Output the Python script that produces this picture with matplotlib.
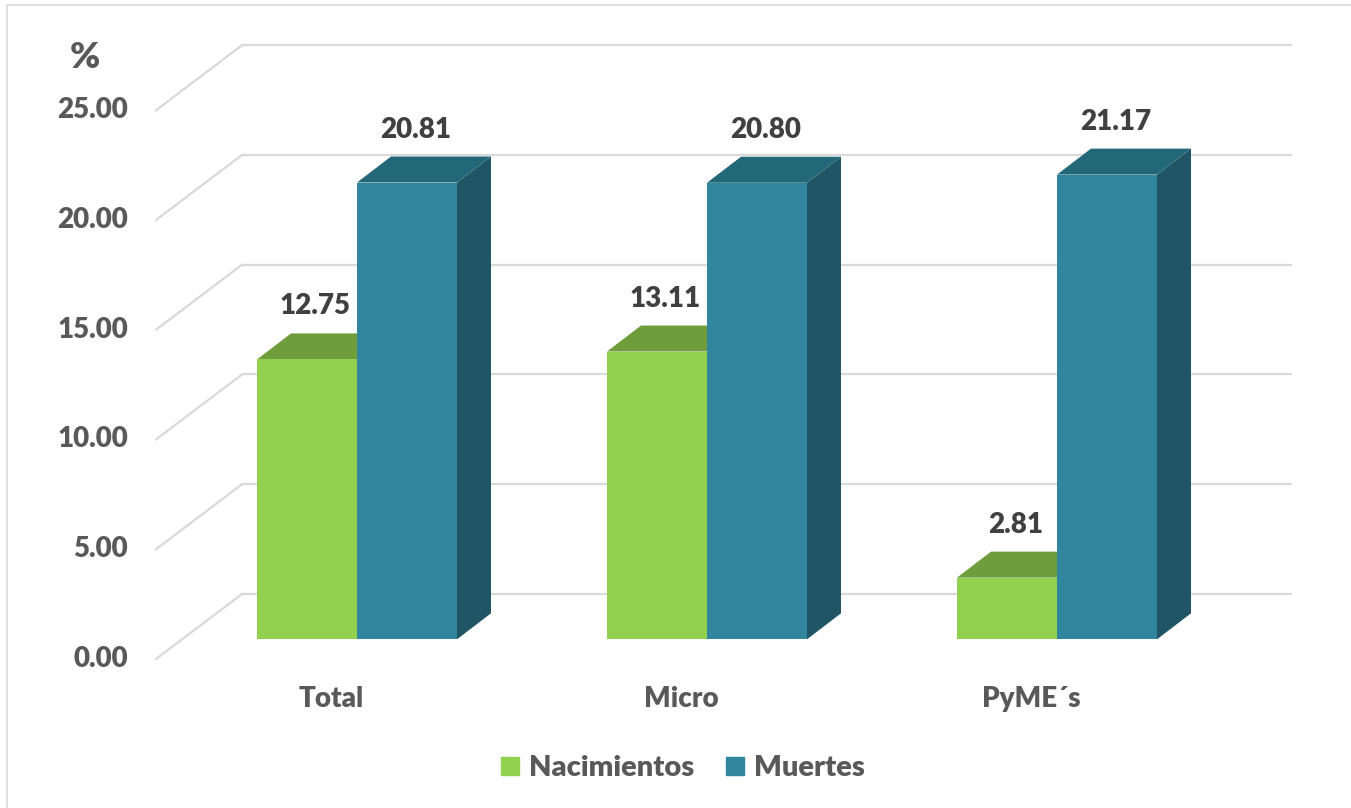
import numpy as np
import matplotlib
matplotlib.use("Agg")
import matplotlib.pyplot as plt
from matplotlib.patches import Polygon, Rectangle
from matplotlib.lines import Line2D

# datos
categorias = ["Total", "Micro", "PyME´s"]
nacimientos = [12.75, 13.11, 2.81]
muertes = [20.81, 20.80, 21.17]
series = ["Nacimientos", "Muertes"]
ticks = [0, 5, 10, 15, 20, 25]

plt.rcParams['font.family'] = ['Lato', 'DejaVu Sans']

# colores (frente, arriba, lado)
col_nac = ("#92D050", "#6F9D3B", "#5E8A30")
col_mue = ("#31859C", "#236878", "#1F5564")
gris = "#D9D9D9"
PESO = 'heavy'
FS = 20

# escala: 350 px por categoria, 21.95 px por unidad
PX_X = 350.0
PX_Y = 21.95
ancho = 100 / PX_X
DX, DY = 34 / PX_X, 26 / PX_Y          # profundidad de la barra
PARED = 45.3 / PX_Y                      # pared del fondo respecto a la base
FRENTE = -19.7 / PX_Y                    # plano frontal
x_pared = -115 / PX_X
x_frente = -201 / PX_X
x_fin = 935 / PX_X

fig = plt.figure(figsize=(13.51, 8.08), dpi=100)
ax = fig.add_axes([0, 0, 1, 1])
ax.set_xlim(-357 / PX_X, (1351 - 357) / PX_X)
ax.set_ylim((639.3 - 808) / PX_Y, 639.3 / PX_Y)
ax.axis('off')

# marco (solo se ven los bordes izquierdo y superior)
fig.patches.append(Rectangle((7 / 1351, -0.05), 1.1, 1 - 5 / 808 + 0.05,
                             transform=fig.transFigure, fill=False,
                             edgecolor=gris, lw=1.2))

# lineas de la cuadricula
for t in ticks:
    ax.plot([x_pared, x_fin], [t + PARED, t + PARED], color=gris, lw=1.6, zorder=1,
            solid_capstyle='butt')
    ax.plot([x_frente, x_pared], [t + FRENTE, t + PARED], color=gris, lw=1.6, zorder=1)
    ax.text(-229 / PX_X, t + FRENTE, f"{t:.2f}", ha='right', va='center',
            fontsize=FS, fontweight=PESO, color="#595959")

ax.text(-272 / PX_X, (639.3 - 58) / PX_Y, "%", ha='center', va='center',
        fontsize=26, fontweight=PESO, color="#595959")


def barra3d(x0, v, cols, z):
    ax.bar(x0, v, width=ancho, align='edge', color=cols[0], zorder=z + 0.2, lw=0)
    top = [(x0, v), (x0 + ancho, v), (x0 + ancho + DX, v + DY), (x0 + DX, v + DY)]
    side = [(x0 + ancho, 0), (x0 + ancho + DX, DY), (x0 + ancho + DX, v + DY), (x0 + ancho, v)]
    ax.add_patch(Polygon(side, closed=True, facecolor=cols[2], lw=0, zorder=z))
    ax.add_patch(Polygon(top, closed=True, facecolor=cols[1], lw=0, zorder=z + 0.1))
    ax.text(x0 + ancho / 2 + DX / 4, v + DY + 27 / PX_Y, f"{v:.2f}", ha='center',
            va='center', fontsize=FS, fontweight=PESO, color="#404040", zorder=10)


x = np.arange(len(categorias))
for i in x:
    barra3d(i - ancho, nacimientos[i], col_nac, 2 + i)
    barra3d(i, muertes[i], col_mue, 2.5 + i)
    ax.text(i - 26 / PX_X, (639.3 - 699) / PX_Y, categorias[i], ha='center', va='center',
            fontsize=FS, fontweight=PESO, color="#595959")

handles = [Line2D([], [], marker='s', ls='', markersize=13, color=col_nac[0]),
           Line2D([], [], marker='s', ls='', markersize=13, color=col_mue[0])]
fig.legend(handles, series, loc='center', bbox_to_anchor=(679 / 1351, 1 - 768 / 808),
           ncol=2, frameon=False, handletextpad=0.05, columnspacing=0.8,
           handlelength=1.2, labelcolor="#595959", prop={'weight': PESO, 'size': 21})

fig.savefig("out.png", dpi=100)
